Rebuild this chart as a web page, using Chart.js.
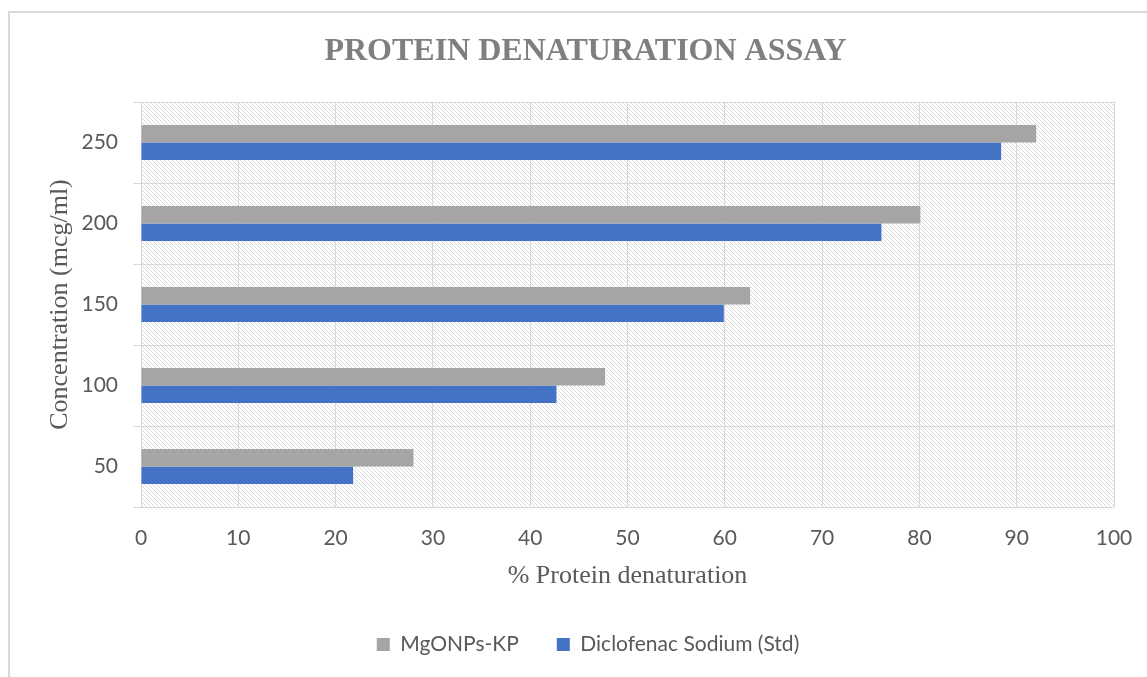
<!DOCTYPE html>
<html>
<head>
<meta charset="utf-8">
<script src="https://cdn.jsdelivr.net/npm/chart.js@4/dist/chart.umd.min.js"></script>
<style>
  html, body { margin: 0; padding: 0; background: #fff; overflow: hidden; }
  .frame { position: absolute; left: 8px; top: 11px; width: 2000px; height: 2000px; border: 2px solid #d9d9d9; }
  .wrap { position: absolute; left: 0; top: 0; width: 1171px; height: 677px; }
</style>
</head>
<body>
<div class="frame"></div>
<div class="wrap"><canvas id="chart"></canvas></div>
<script>
// chart data
const concentrations = ["50", "100", "150", "200", "250"];
const mgonpsKP = [28.0, 47.7, 62.6, 80.1, 92.0];
const diclofenacStd = [21.8, 42.7, 59.9, 76.1, 88.4];
const xTicks = [0, 10, 20, 30, 40, 50, 60, 70, 80, 90, 100];

const textColor = "#595959";
const gridColor = "#d9d9d9";

// light downward diagonal hatch for the plot area
const makeHatch = (ctx) => {
  const tile = document.createElement("canvas");
  tile.width = 4;
  tile.height = 4;
  const t = tile.getContext("2d");
  t.fillStyle = "#ffffff";
  t.fillRect(0, 0, 4, 4);
  t.fillStyle = "#dadada";
  for (let i = 0; i < 4; i++) t.fillRect(i, i, 1, 1);
  return ctx.createPattern(tile, "repeat");
};

const hatchPlugin = {
  id: "hatch",
  beforeDraw(chart) {
    const { ctx, chartArea } = chart;
    ctx.save();
    ctx.fillStyle = makeHatch(ctx);
    ctx.fillRect(chartArea.left, chartArea.top, chartArea.right - chartArea.left, chartArea.bottom - chartArea.top);
    ctx.restore();
  },
};

// title and legend sit centred on the whole (wider) frame, not on the padded box
const centerPlugin = {
  id: "centerBoxes",
  afterLayout(chart) {
    if (chart.titleBlock) chart.titleBlock.left = 57;
    if (chart.legend) chart.legend.left = 62;
  },
};

new Chart(document.getElementById("chart"), {
  type: "bar",
  data: {
    labels: concentrations,
    datasets: [
      {
        label: "MgONPs-KP",
        data: mgonpsKP,
        backgroundColor: "#a5a5a5",
      },
      {
        label: "Diclofenac Sodium (Std)",
        data: diclofenacStd,
        backgroundColor: "#4472c4",
      },
    ],
  },
  options: {
    indexAxis: "y",
    responsive: true,
    maintainAspectRatio: false,
    animation: false,
    categoryPercentage: 0.43,
    barPercentage: 1,
    layout: { padding: { left: 0, right: 57, top: 0, bottom: 12 } },
    plugins: {
      title: {
        display: true,
        text: "PROTEIN DENATURATION ASSAY",
        color: "#7f7f7f",
        font: { family: "'Liberation Serif', 'Times New Roman', serif", size: 32, weight: "bold", lineHeight: 1.2 },
        padding: { top: 33, bottom: 30.6 },
      },
      legend: {
        position: "bottom",
        labels: {
          color: textColor,
          font: { family: "Lato, 'Open Sans', sans-serif", size: 21 },
          boxWidth: 13,
          boxHeight: 13,
          padding: 38,
        },
      },
      tooltip: { enabled: false },
    },
    scales: {
      x: {
        min: 0,
        max: 100,
        afterBuildTicks: (scale) => {
          scale.ticks = xTicks.map((v) => ({ value: v }));
        },
        afterFit: (scale) => {
          scale.height = 89;
        },
        grid: { color: gridColor, drawTicks: false },
        border: { display: false },
        ticks: {
          color: textColor,
          font: { family: "Lato, 'Open Sans', sans-serif", size: 21 },
          padding: 19,
        },
        title: {
          display: true,
          text: "% Protein denaturation",
          color: textColor,
          font: { family: "'Liberation Serif', 'Times New Roman', serif", size: 26 },
          padding: { top: 0, bottom: 4 },
        },
      },
      y: {
        reverse: true,
        afterFit: (scale) => {
          scale.width = 141;
        },
        grid: { color: gridColor, tickLength: 8, offset: true },
        border: { color: gridColor },
        ticks: {
          color: textColor,
          font: { family: "Lato, 'Open Sans', sans-serif", size: 21 },
          padding: 15,
        },
        title: {
          display: true,
          text: "Concentration (mcg/ml)",
          color: textColor,
          font: { family: "'Liberation Serif', 'Times New Roman', serif", size: 26 },
          padding: { top: 45, bottom: 0 },
        },
      },
    },
  },
  plugins: [hatchPlugin, centerPlugin],
});
</script>
</body>
</html>
